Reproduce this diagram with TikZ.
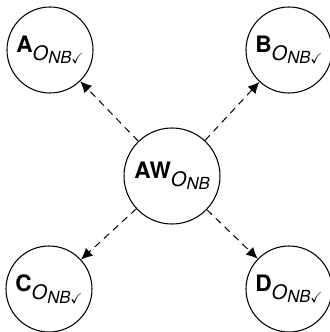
\documentclass[tikz,border=0pt]{standalone}
\usepackage{amsmath}
\usepackage{amssymb}
\usepackage{fontspec}
\setmainfont{TeX Gyre Heros}
\usetikzlibrary{arrows.meta}

\newcommand{\onb}{\raisebox{-6pt}{\fontsize{15}{15}\selectfont\itshape O\raisebox{-2.5pt}{\fontsize{12.5}{12.5}\selectfont NB}}}
\newcommand{\okmark}{\raisebox{-8.5pt}{\fontsize{11}{11}\selectfont$\checkmark$}}

\tikzset{
  agent/.style={draw, circle, line width=0.8pt, minimum size=64.5pt, inner sep=0pt, font=\fontsize{17}{17}\selectfont},
  hub/.style={agent, minimum size=72pt},
  link/.style={dashed, dash pattern=on 5.25pt off 4pt, line width=0.75pt, -{Latex[length=8.5pt,width=8pt]}}
}

\begin{document}
\begin{tikzpicture}[x=0.75pt,y=0.75pt,yscale=-1]
\useasboundingbox (0,0) rectangle (329,332);

%Shape: Circle [hub]
\node [hub] (aw) at (172,176) {\textbf{AW}\onb};
%Shape: Circle [corners]
\node [agent] (a) at (50,50) {\textbf{A}\onb\okmark};
\node [agent] (b) at (289,50) {\textbf{B}\onb\okmark};
\node [agent] (c) at (49,289) {\textbf{C}\onb\okmark};
\node [agent] (d) at (289,289) {\textbf{D}\onb\okmark};

%Dashed Arrows
\draw [link] (aw) -- (a);
\draw [link] (aw) -- (b);
\draw [link] (aw) -- (c);
\draw [link] (aw) -- (d);

\end{tikzpicture}
\end{document}
